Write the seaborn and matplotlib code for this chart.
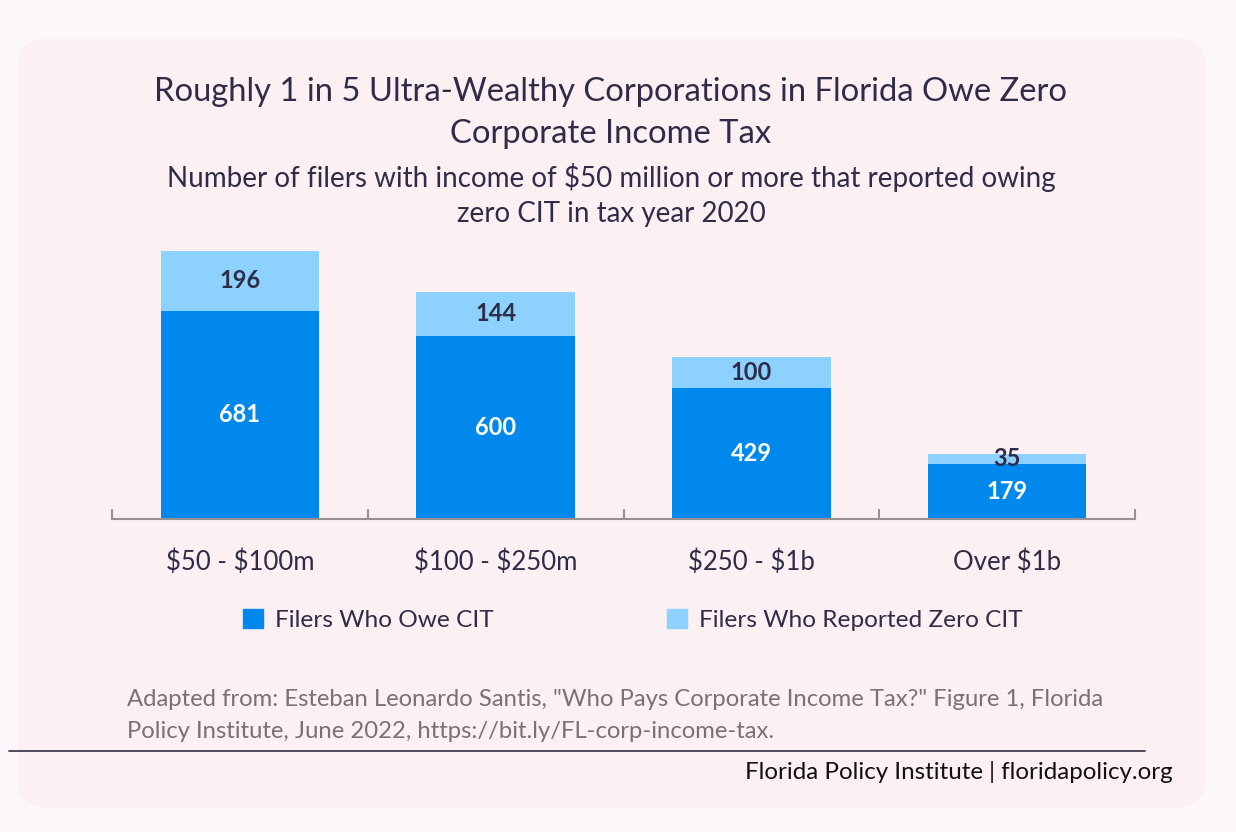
import matplotlib.pyplot as plt
import matplotlib.patches as mpatches
import numpy as np
import pandas as pd
import seaborn as sns

categories = ["$50 - $100m", "$100 - $250m", "$250 - $1b", "Over $1b"]
owe_cit = [681, 600, 429, 179]
zero_cit = [196, 144, 100, 35]

dark_blue = "#0088ec"
light_blue = "#8dd1fe"
navy = "#2e2c48"

df = pd.DataFrame({"Income": categories, "Owe": owe_cit, "Zero": zero_cit})
df["Total"] = df["Owe"] + df["Zero"]

sns.set_theme(style="white")
plt.rcParams["font.family"] = ["Lato", "DejaVu Sans"]

fig = plt.figure(figsize=(12.36, 8.32), dpi=100)
fig.patch.set_facecolor("#fbf7fa")
card = mpatches.FancyBboxPatch((18 / 1236, 1 - 808 / 832), (1205 - 18) / 1236, (808 - 38) / 832,
                               boxstyle="round,pad=0,rounding_size=0.03",
                               transform=fig.transFigure, facecolor="#fcf0f3",
                               edgecolor="none", zorder=-5)
fig.patches.append(card)

ax = fig.add_axes([112 / 1236, 1 - 519 / 832, (1135 - 112) / 1236, 275 / 832])
ax.set_facecolor("none")
ax.set_zorder(2)

sns.barplot(data=df, x="Income", y="Total", color=light_blue, width=0.62,
            saturation=1, linewidth=0, ax=ax)
sns.barplot(data=df, x="Income", y="Owe", color=dark_blue, width=0.62,
            saturation=1, linewidth=0, ax=ax)

ax.bar_label(ax.containers[1], labels=[str(v) for v in owe_cit], label_type="center",
             color="white", fontsize=17, fontweight="bold")
for i, (o, z) in enumerate(zip(owe_cit, zero_cit)):
    ax.text(i, o + z / 2, str(z), ha="center", va="center", color=navy,
            fontsize=17, fontweight="bold")

ax.set_xlim(-0.5, 3.5)
ax.set_ylim(0, 900)
ax.set_xlabel("")
ax.set_ylabel("")
ax.set_yticks([])
ax.set_xticks(range(len(categories)))
ax.set_xticklabels(categories, parse_math=False)
for s in ["top", "right", "left"]:
    ax.spines[s].set_visible(False)
ax.spines["bottom"].set_color("#9a9090")
ax.spines["bottom"].set_linewidth(1.5)
ax.set_xticks(np.arange(-0.5, 4, 1), minor=True)
ax.tick_params(axis="x", which="minor", direction="in", length=7, width=1.5,
               color="#9a9090", bottom=True)
ax.tick_params(axis="x", which="major", length=0, pad=22, labelsize=18.5, labelcolor=navy)

handles = [mpatches.Patch(color=dark_blue, label="Filers Who Owe CIT"),
           mpatches.Patch(color=light_blue, label="Filers Who Reported Zero CIT")]
fig.legend(handles=handles, loc="center", bbox_to_anchor=(633 / 1236, 1 - 620 / 832),
           ncol=2, frameon=False, fontsize=17.6, handlelength=0.8, handleheight=0.8,
           handletextpad=0.5, columnspacing=7.1, labelcolor=navy)

fig.text(611 / 1236, 1 - 92 / 832, "Roughly 1 in 5 Ultra-Wealthy Corporations in Florida Owe Zero",
         ha="center", va="center", fontsize=23.6, color=navy)
fig.text(611 / 1236, 1 - 134 / 832, "Corporate Income Tax", ha="center", va="center",
         fontsize=23.6, color=navy)
fig.text(611 / 1236, 1 - 177 / 832, "Number of filers with income of $50 million or more that reported owing",
         ha="center", va="center", fontsize=20, color=navy, parse_math=False)
fig.text(611 / 1236, 1 - 214 / 832, "zero CIT in tax year 2020", ha="center", va="center",
         fontsize=20, color=navy)

fig.text(127 / 1236, 1 - 700 / 832,
         "Adapted from: Esteban Leonardo Santis, \"Who Pays Corporate Income Tax?\" Figure 1, Florida",
         ha="left", va="center", fontsize=17.2, color="#7a7077")
fig.text(127 / 1236, 1 - 731 / 832,
         "Policy Institute, June 2022, https://bit.ly/FL-corp-income-tax.",
         ha="left", va="center", fontsize=17.2, color="#7a7077")
fig.add_artist(plt.Line2D([9 / 1236, 1145 / 1236], [1 - 751 / 832, 1 - 751 / 832],
                          transform=fig.transFigure, color=navy, linewidth=1.2))
fig.text(1173 / 1236, 1 - 772 / 832, "Florida Policy Institute | floridapolicy.org",
         ha="right", va="center", fontsize=17.4, color="#111111")

fig.savefig("out.png", dpi=100, facecolor=fig.get_facecolor())
